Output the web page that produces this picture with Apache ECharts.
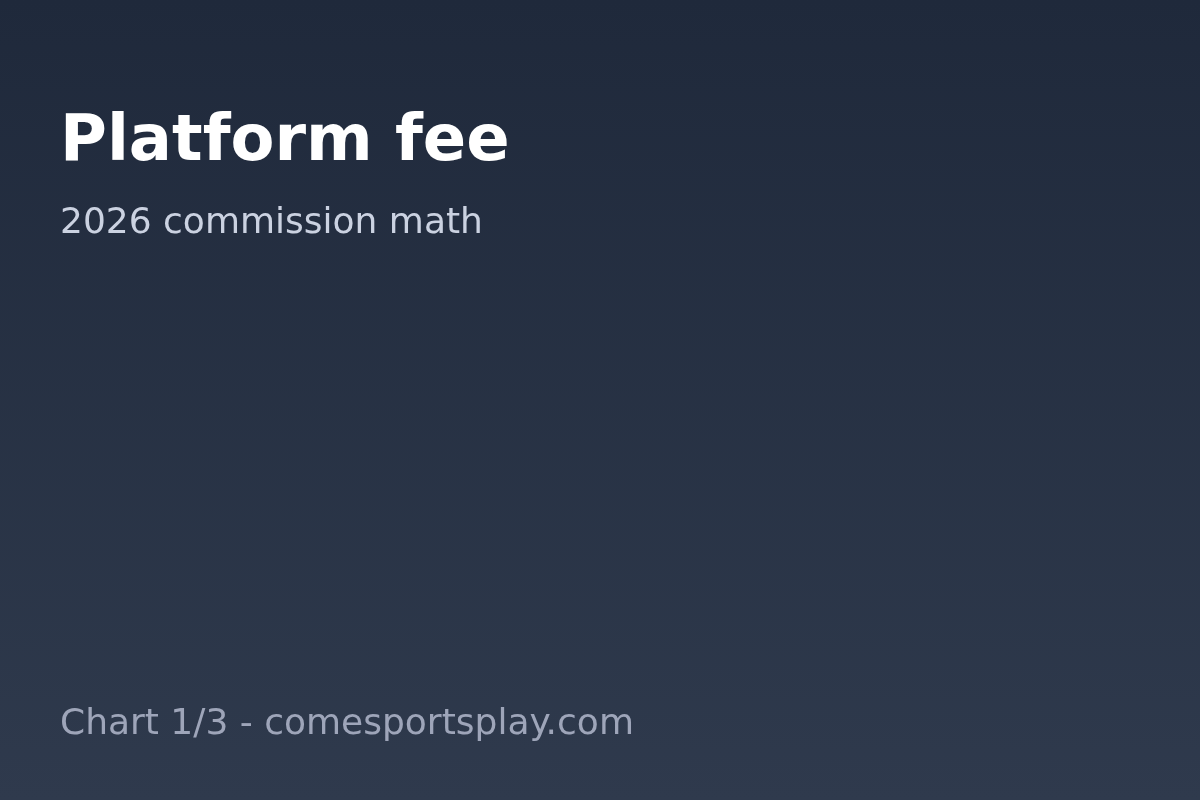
<!DOCTYPE html>
<html>
<head>
<meta charset="utf-8">
<script src="https://cdn.jsdelivr.net/npm/echarts@6/dist/echarts.min.js"></script>
<style>
html,body{margin:0;padding:0;width:1200px;height:800px;overflow:hidden;}
#chart{width:1200px;height:800px;}
</style>
</head>
<body>
<div id="chart"></div>
<script>
// Text content of the card (the reference shows no data marks)
const titleText = ["Platform fee"];
const subtitleText = ["2026 commission math"];
const footerText = ["Chart 1/3 - comesportsplay.com"];

const chart = echarts.init(document.getElementById('chart'), null, {renderer: 'canvas'});
const font = '"DejaVu Sans", sans-serif';
chart.setOption({
  backgroundColor: {
    type: 'linear', x: 0, y: 0, x2: 0, y2: 1,
    colorStops: [
      {offset: 0, color: '#1f293b'},
      {offset: 1, color: '#2f3a4d'}
    ]
  },
  graphic: [
    {
      type: 'text', left: 60, top: 160 - 64 * 0.76,
      style: {text: titleText.join('\n'), fill: '#ffffff', font: 'bold 64px ' + font}
    },
    {
      type: 'text', left: 60, top: 233 - 36 * 0.76,
      style: {text: subtitleText.join('\n'), fill: '#cbd2e1', font: '36px ' + font}
    },
    {
      type: 'text', left: 60, top: 734 - 36 * 0.76,
      style: {text: footerText.join('\n'), fill: '#9ea5b9', font: '36px ' + font}
    }
  ]
});
</script>
</body>
</html>
